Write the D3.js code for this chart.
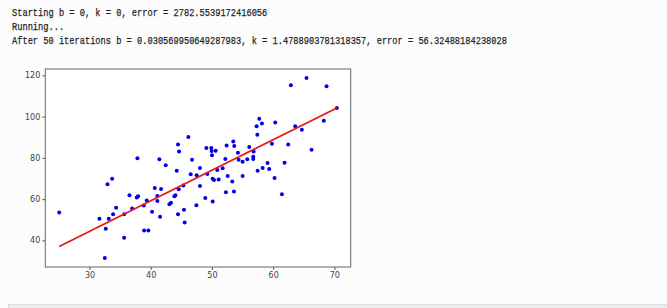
<!DOCTYPE html>
<html>
<head>
<meta charset="utf-8">
<script src="https://cdn.jsdelivr.net/npm/d3@7"></script>
<style>
  html, body { margin: 0; padding: 0; background: #fbfcfb; }
  svg { display: block; }
</style>
</head>
<body>
<div id="container"></div>
<script>
// console output printed above the plot
const logLines = [
  'Starting b = 0, k = 0, error = 2782.5539172416056',
  'Running...',
  'After 50 iterations b = 0.030569950649287983, k = 1.4788903781318357, error = 56.32488184238028'
];

// fitted line
const b = 0.030569950649287983;
const k = 1.4788903781318357;

// scatter points
const xs = [25.05, 31.63, 32.66, 32.50, 32.94, 33.70, 33.15, 33.86, 34.35, 35.66,
  35.66, 36.53, 36.96, 37.83, 37.72, 37.94, 38.86, 38.92, 39.35, 39.62,
  40.22, 40.66, 41.09, 41.09, 41.42, 41.53, 41.69, 42.45, 43.05, 43.32,
  43.87, 44.03, 44.25, 44.46, 44.63, 44.46, 44.57, 45.33, 45.44, 45.55,
  46.15, 46.75, 46.53, 47.51, 47.46, 48.05, 48.05, 48.92, 49.09, 49.25,
  49.90, 49.96, 50.01, 50.12, 50.12, 50.34, 50.61, 50.88, 51.10, 51.75,
  52.19, 52.29, 52.40, 52.57, 53.33, 53.49, 53.65, 53.60, 54.25, 54.36,
  55.01, 55.01, 55.77, 56.10, 56.75, 56.81, 56.75, 57.30, 57.41, 57.46,
  57.73, 58.17, 58.28, 59.09, 59.36, 59.80, 60.23, 60.34, 61.43, 61.86,
  62.46, 62.90, 63.61, 64.69, 65.45, 66.27, 68.28, 68.72, 70.40];

const ys = [53.5, 50.46, 45.63, 31.47, 67.20, 69.94, 50.46, 52.72, 55.77, 41.29,
  52.72, 61.89, 55.45, 79.76, 60.76, 61.41, 56.90, 44.83, 59.32, 44.83,
  53.84, 65.43, 61.57, 59.15, 79.28, 51.43, 64.95, 76.38, 57.55, 58.19,
  61.41, 61.89, 73.80, 86.52, 83.14, 52.72, 64.79, 66.56, 54.81, 48.69,
  90.06, 79.12, 72.03, 71.55, 57.06, 75.09, 66.40, 60.60, 84.75, 72.19,
  84.75, 83.30, 81.21, 58.83, 69.94, 69.30, 83.46, 74.12, 69.46, 74.93,
  79.44, 63.34, 86.04, 71.23, 68.49, 87.97, 85.71, 63.66, 82.50, 79.12,
  78.15, 71.23, 79.28, 85.23, 80.56, 83.14, 79.44, 95.37, 91.19, 73.80,
  98.91, 96.66, 75.09, 77.50, 74.61, 86.84, 70.26, 97.14, 62.37, 77.67,
  86.52, 115.17, 95.37, 93.60, 118.71, 83.94, 97.95, 114.69, 104.22];

const xTicks = [30, 40, 50, 60, 70];
const yTicks = [40, 60, 80, 100, 120];

let width = 667;
let height = 308;
let plot = { left: 45.3, top: 69, right: 350.7, bottom: 267 };

// matplotlib style auto limits: data extent plus 5% on each side
function padded(ext) {
  let pad = (ext[1] - ext[0]) * 0.05;
  return [ext[0] - pad, ext[1] + pad];
}

let x = d3.scaleLinear()
  .domain(padded(d3.extent(xs)))
  .range([plot.left, plot.right]);

let y = d3.scaleLinear()
  .domain(padded(d3.extent(ys)))
  .range([plot.bottom, plot.top]);

const svg = d3.select('#container')
  .append('svg')
  .attr('width', width)
  .attr('height', height);

svg.append('rect')
  .attr('width', width)
  .attr('height', height)
  .attr('fill', '#fbfcfb');

// log text
svg.append('g')
  .attr('font-family', '"Liberation Mono", "DejaVu Sans Mono", monospace')
  .attr('font-size', 11.5)
  .attr('fill', '#1e1e1e')
  .attr('stroke', '#1e1e1e')
  .attr('stroke-width', 0.25)
  .selectAll('text')
  .data(logLines)
  .enter()
  .append('text')
  .attr('x', 12)
  .attr('y', (d, i) => 16 + i * 14)
  .attr('textLength', d => d.length * 5.21)
  .attr('lengthAdjust', 'spacingAndGlyphs')
  .text(d => d);

// plot background
svg.append('rect')
  .attr('x', plot.left)
  .attr('y', plot.top)
  .attr('width', plot.right - plot.left)
  .attr('height', plot.bottom - plot.top)
  .attr('fill', '#ffffff');

// points
svg.append('g')
  .selectAll('circle')
  .data(xs.map((d, i) => [d, ys[i]]))
  .enter()
  .append('circle')
  .attr('cx', d => x(d[0]))
  .attr('cy', d => y(d[1]))
  .attr('r', 2)
  .attr('fill', '#0000e6');

// regression line
let xr = d3.extent(xs);
svg.append('path')
  .attr('fill', 'none')
  .attr('stroke', '#e8191c')
  .attr('stroke-width', 1.8)
  .attr('d', d3.line().x(d => x(d)).y(d => y(k * d + b))(xr));

// axes
let xAxis = svg.append('g')
  .attr('transform', `translate(0,${plot.bottom})`)
  .call(d3.axisBottom(x).tickValues(xTicks).tickSize(3).tickPadding(2).tickFormat(d3.format('d')));

let yAxis = svg.append('g')
  .attr('transform', `translate(${plot.left},0)`)
  .call(d3.axisLeft(y).tickValues(yTicks).tickSize(3).tickPadding(2).tickFormat(d3.format('d')));

[xAxis, yAxis].forEach(g => {
  g.select('.domain').remove();
  g.attr('font-family', '"DejaVu Sans", sans-serif')
    .attr('font-size', 8);
  g.selectAll('line').attr('stroke', '#555');
  g.selectAll('text').attr('fill', '#444');
});

// frame
svg.append('rect')
  .attr('x', plot.left)
  .attr('y', plot.top)
  .attr('width', plot.right - plot.left)
  .attr('height', plot.bottom - plot.top)
  .attr('fill', 'none')
  .attr('stroke', '#666')
  .attr('stroke-width', 1);

// gray strip at the bottom of the window
svg.append('rect')
  .attr('x', 8.5)
  .attr('y', 304.5)
  .attr('width', width)
  .attr('height', 10)
  .attr('fill', '#ececec')
  .attr('stroke', '#dcdcdc');
</script>
</body>
</html>
